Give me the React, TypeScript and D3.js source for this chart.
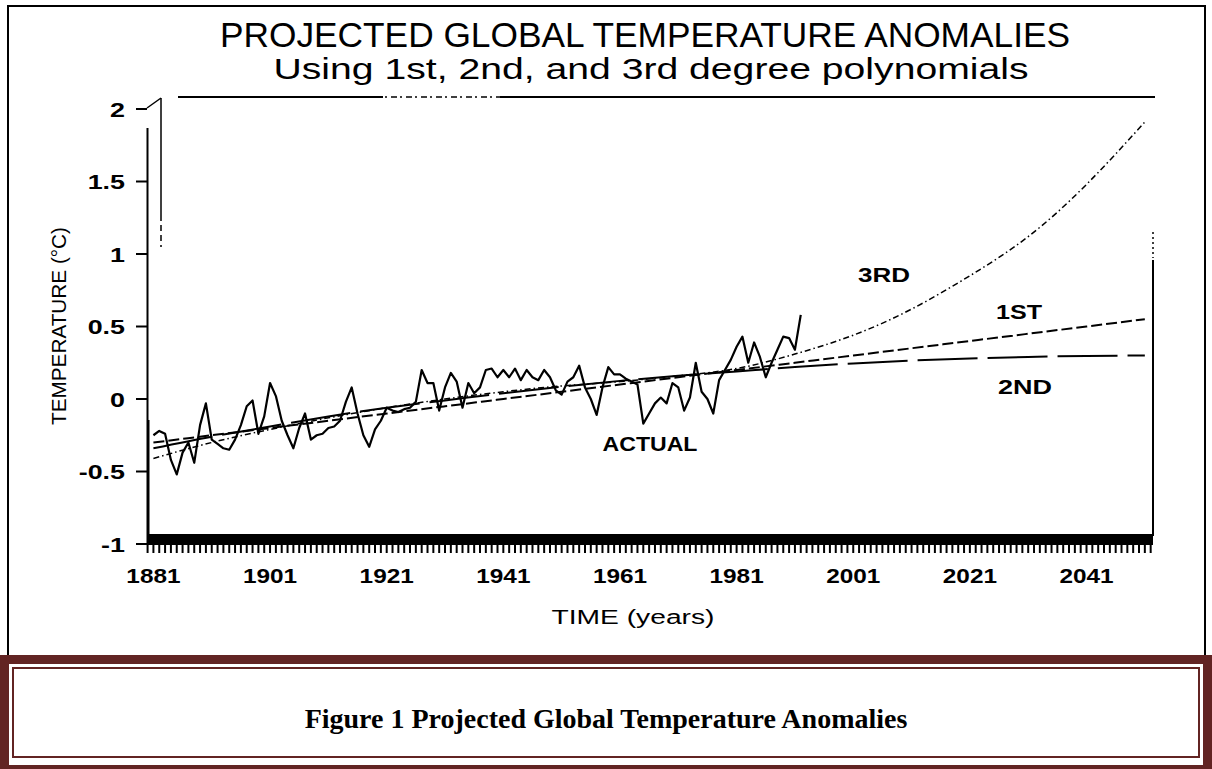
import React from "react";
import * as d3 from "d3";

// annual anomalies (°C), 1881-1992
const actualYears = d3.range(1881, 1993);
const actualValues = [
  -0.25, -0.22, -0.24, -0.42, -0.52, -0.37, -0.3, -0.44, -0.18, -0.03,
  -0.28, -0.31, -0.34, -0.35, -0.28, -0.18, -0.05, -0.01, -0.24, -0.12,
  0.11, 0.02, -0.15, -0.25, -0.34, -0.2, -0.1, -0.28, -0.25, -0.24,
  -0.2, -0.19, -0.15, -0.02, 0.08, -0.1, -0.25, -0.33, -0.21, -0.15,
  -0.06, -0.08, -0.09, -0.07, -0.06, -0.02, 0.2, 0.11, 0.11, -0.08,
  0.08, 0.18, 0.12, -0.06, 0.11, 0.04, 0.08, 0.2, 0.21, 0.15,
  0.2, 0.15, 0.21, 0.13, 0.2, 0.15, 0.13, 0.2, 0.15, 0.06,
  0.03, 0.12, 0.15, 0.23, 0.08, 0.0, -0.11, 0.08, 0.22, 0.17,
  0.17, 0.14, 0.12, 0.1, -0.17, -0.1, -0.03, 0.01, -0.03, 0.11,
  0.08, -0.08, 0.01, 0.25, 0.05, 0.0, -0.1, 0.13, 0.2, 0.27,
  0.36, 0.43, 0.25, 0.39, 0.29, 0.15, 0.25, 0.34, 0.43, 0.42,
  0.34, 0.58,
];

// polynomial fits, read at decade points
const fitYears = [1881, 1891, 1901, 1911, 1921, 1931, 1941, 1951, 1961, 1971, 1981, 1991, 2001, 2011, 2021, 2031, 2041, 2051];
const fit1st = [-0.3, -0.25, -0.2, -0.15, -0.1, -0.05, 0.0, 0.05, 0.1, 0.15, 0.2, 0.25, 0.3, 0.35, 0.4, 0.45, 0.5, 0.55];
const fit2nd = [-0.34, -0.26, -0.19, -0.12, -0.06, -0.01, 0.04, 0.085, 0.125, 0.16, 0.19, 0.22, 0.245, 0.265, 0.28, 0.29, 0.297, 0.3];
const fit3rd = [-0.41, -0.3, -0.21, -0.13, -0.06, 0.0, 0.05, 0.09, 0.12, 0.16, 0.21, 0.31, 0.44, 0.62, 0.85, 1.12, 1.48, 1.91];

const yTicks = [-1, -0.5, 0, 0.5, 1, 1.5, 2];
const xLabelYears = [1881, 1901, 1921, 1941, 1961, 1981, 2001, 2021, 2041];

const W = 1212;
const H = 769;
const SANS = "'Liberation Sans', Arial, Helvetica, sans-serif";
const SERIF = "'Liberation Serif', 'Times New Roman', serif";
const MAROON = "#622423";

const x = d3.scaleLinear().domain([1879.9, 2052.4]).range([147, 1153]);
const y = d3.scaleLinear().domain([-1, 2]).range([544, 109]);

// text squeezed/stretched to a measured width
const Fit = ({ cx, y: ty, len, size, weight = "normal", children }: any) => (
  <text
    x={cx - len / 2}
    y={ty}
    textLength={len}
    lengthAdjust="spacingAndGlyphs"
    fontSize={size}
    fontWeight={weight}
    fontFamily={SANS}
    fill="#000"
  >
    {children}
  </text>
);

export default function App() {
  const pts = (xs: number[], vs: number[]) => xs.map((v, i) => [v, vs[i]] as [number, number]);

  const rough = d3
    .line<[number, number]>()
    .x((d) => x(d[0]))
    .y((d) => y(d[1]));
  const smooth = d3
    .line<[number, number]>()
    .x((d) => x(d[0]))
    .y((d) => y(d[1]))
    .curve(d3.curveNatural);

  const minorYears = d3.range(1880, 2053);

  return (
    <svg width={W} height={H} style={{ position: "absolute", left: 0, top: 0 }}>
      <rect width={W} height={H} fill="#fff" />

      {/* outer frame of the scanned figure */}
      <rect x={8} y={6} width={1197} height={650} fill="none" stroke="#000" strokeWidth={2} />

      {/* titles */}
      <Fit cx={645} y={47} len={850} size={35}>
        PROJECTED GLOBAL TEMPERATURE ANOMALIES
      </Fit>
      <Fit cx={651} y={79} len={755} size={30}>
        Using 1st, 2nd, and 3rd degree polynomials
      </Fit>

      {/* plot box (scan leftovers included) */}
      <g stroke="#000" fill="none">
        <line x1={178} x2={383} y1={97} y2={97} strokeWidth={2} />
        <line x1={385} x2={500} y1={97} y2={97} strokeWidth={1.5} strokeDasharray="2 4 6 3" />
        <line x1={500} x2={1155} y1={97} y2={97} strokeWidth={2} />
        <line x1={147} y1={108} x2={161} y2={98} strokeWidth={1.5} />
        <line x1={161} x2={161} y1={98} y2={215} strokeWidth={1.5} />
        <line x1={161} x2={161} y1={215} y2={247} strokeWidth={1.5} strokeDasharray="6 4" />
        <line x1={147.5} x2={147.5} y1={128} y2={544} strokeWidth={2} />
        <line x1={148.5} x2={148.5} y1={420} y2={544} strokeWidth={2} />
        <line x1={1153} x2={1153} y1={232} y2={258} strokeWidth={1.5} strokeDasharray="2 3" />
        <line x1={1153} x2={1153} y1={260} y2={536} strokeWidth={2} />
      </g>

      {/* y axis ticks and labels */}
      {yTicks.map((t) => (
        <g key={t}>
          <line x1={136} x2={147} y1={y(t)} y2={y(t)} stroke="#000" strokeWidth={2} />
          <text
            transform={`translate(125,${y(t) + 7.5}) scale(1.28,1)`}
            textAnchor="end"
            fontSize={21}
            fontWeight="bold"
            fontFamily={SANS}
          >
            {String(t)}
          </text>
        </g>
      ))}

      {/* x axis: dense band + yearly comb */}
      <rect x={149} y={534} width={1004} height={10} fill="#000" />
      <line x1={136} x2={1153} y1={544} y2={544} stroke="#000" strokeWidth={2} />
      {minorYears.map((yr) => (
        <line key={yr} x1={x(yr)} x2={x(yr)} y1={544} y2={553} stroke="#000" strokeWidth={2} />
      ))}
      {xLabelYears.map((yr) => (
        <text
          key={yr}
          transform={`translate(${x(yr)},583) scale(1.16,1)`}
          textAnchor="middle"
          fontSize={21}
          fontWeight="bold"
          fontFamily={SANS}
        >
          {yr}
        </text>
      ))}

      {/* axis titles */}
      <Fit cx={633} y={624} len={163} size={20}>
        TIME (years)
      </Fit>
      <g transform="translate(66,326) rotate(-90)">
        <Fit cx={0} y={0} len={198} size={21}>
          TEMPERATURE (°C)
        </Fit>
      </g>

      {/* fits */}
      <path d={smooth(pts(fitYears, fit3rd)) ?? ""} fill="none" stroke="#000" strokeWidth={1.5} strokeDasharray="6 3 1.5 3" />
      <path d={smooth(pts(fitYears, fit1st)) ?? ""} fill="none" stroke="#000" strokeWidth={2} strokeDasharray="11 4" />
      <path d={smooth(pts(fitYears, fit2nd)) ?? ""} fill="none" stroke="#000" strokeWidth={2} strokeDasharray="60 10" />

      {/* actual record */}
      <path d={rough(pts(actualYears, actualValues)) ?? ""} fill="none" stroke="#000" strokeWidth={2.2} strokeLinejoin="round" />

      {/* curve labels */}
      <Fit cx={884} y={282} len={52} size={21} weight="bold">3RD</Fit>
      <Fit cx={1019} y={319} len={46} size={21} weight="bold">1ST</Fit>
      <Fit cx={1025} y={394} len={54} size={21} weight="bold">2ND</Fit>
      <Fit cx={650} y={451} len={95} size={20} weight="bold">ACTUAL</Fit>

      {/* caption box */}
      <rect x={0} y={655} width={W} height={H - 655} fill={MAROON} />
      <rect x={9} y={664} width={W - 18} height={H - 664 - 4} fill="#fff" />
      <rect x={13} y={668} width={W - 26} height={H - 668 - 12} fill="#fff" stroke={MAROON} strokeWidth={2} />
      <text x={606} y={728} textAnchor="middle" fontSize={28} fontWeight="bold" fontFamily={SERIF}>
        Figure 1 Projected Global Temperature Anomalies
      </text>
    </svg>
  );
}
